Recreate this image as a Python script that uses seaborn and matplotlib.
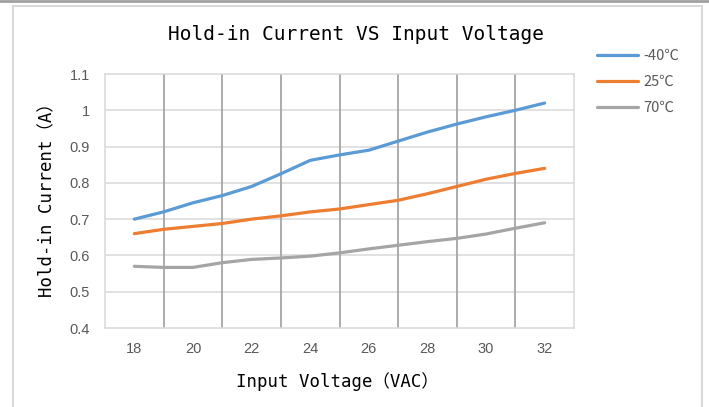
import matplotlib
matplotlib.use("Agg")
import matplotlib.pyplot as plt
import seaborn as sns
import pandas as pd
from matplotlib.patches import Rectangle
from matplotlib.lines import Line2D

# ---- data ----
voltage = [18, 19, 20, 21, 22, 23, 24, 25, 26, 27, 28, 29, 30, 31, 32]
cur_m40 = [0.70, 0.72, 0.745, 0.765, 0.79, 0.825, 0.862, 0.877, 0.89, 0.915, 0.94, 0.962, 0.982, 1.0, 1.02]
cur_25 = [0.66, 0.672, 0.68, 0.688, 0.70, 0.709, 0.72, 0.728, 0.74, 0.752, 0.77, 0.79, 0.81, 0.826, 0.84]
cur_70 = [0.57, 0.567, 0.567, 0.58, 0.589, 0.593, 0.598, 0.607, 0.618, 0.628, 0.638, 0.647, 0.659, 0.675, 0.69]
series_names = ["-40℃", "25℃", "70℃"]
x_ticks = [18, 20, 22, 24, 26, 28, 30, 32]
y_ticks = [0.4, 0.5, 0.6, 0.7, 0.8, 0.9, 1.0, 1.1]
y_tick_labels = ["0.4", "0.5", "0.6", "0.7", "0.8", "0.9", "1", "1.1"]
title = "Hold-in Current VS Input Voltage"
x_label = "Input Voltage（VAC）"
y_label = "Hold-in Current（A）"

df = pd.DataFrame({
    "V": voltage * 3,
    "I": cur_m40 + cur_25 + cur_70,
    "T": [series_names[0]] * len(voltage) + [series_names[1]] * len(voltage) + [series_names[2]] * len(voltage),
})

colors = ["#5B9BD5", "#ED7D31", "#A5A5A5"]

sns.set_theme(style="white")
W, H = 709, 407
fig = plt.figure(figsize=(W / 100, H / 100), dpi=100)
fig.patch.set_facecolor("white")

# outer chart border + top strip
fig.add_artist(Rectangle((13 / W, -0.05), (702 - 13) / W, 1 - 6 / H + 0.05,
                         transform=fig.transFigure, fill=False,
                         edgecolor="#d9d9d9", linewidth=1.5))
fig.add_artist(Line2D([0, 1], [1 - 1 / H, 1 - 1 / H], transform=fig.transFigure,
                      color="#a0a0a0", linewidth=2))

ax = fig.add_axes([105 / W, 1 - 328 / H, (574 - 105) / W, (328 - 74) / H])

# grid lines
for yv in y_ticks[1:-1]:
    ax.axhline(yv, color="#d9d9d9", linewidth=1.1, zorder=0)
for xv in range(19, 33, 2):
    ax.axvline(xv, color="#a6a6a6", linewidth=1.3, zorder=0)

sns.lineplot(data=df, x="V", y="I", hue="T", palette=colors, linewidth=2.3,
             legend=False, ax=ax, zorder=3)

ax.set_xlim(17, 33)
ax.set_ylim(0.4, 1.1)
ax.set_xticks(x_ticks)
ax.set_yticks(y_ticks)
ax.set_yticklabels(y_tick_labels)
ax.tick_params(axis="both", length=0, labelsize=10.5, colors="#595959")
ax.tick_params(axis="x", pad=10)
ax.tick_params(axis="y", pad=11)
for lab in ax.get_xticklabels() + ax.get_yticklabels():
    lab.set_family(["Liberation Sans", "DejaVu Sans"])
ax.set_xlabel("")
ax.set_ylabel("")
for sp in ax.spines.values():
    sp.set_color("#d9d9d9")
    sp.set_linewidth(1.1)

fam = ["DejaVu Sans Mono", "Noto Sans CJK SC"]
fig.text(356 / W, 1 - 35 / H, title, ha="center", va="center", fontsize=14,
         family=fam, color="#000000", weight="medium")
fig.text(337 / W, 1 - 382 / H, x_label, ha="center", va="center", fontsize=12.5,
         family=fam, color="#000000")
fig.text(47 / W, 1 - 196 / H, y_label, ha="center", va="center", fontsize=12.5,
         family=fam, color="#000000", rotation=90)

handles = [Line2D([0], [0], color=c, linewidth=2.3) for c in colors]
leg = fig.legend(handles, series_names, loc="upper left",
                 bbox_to_anchor=(597 / W, 1 - 49 / H), frameon=False,
                 borderpad=0, borderaxespad=0, handlelength=2.8,
                 handletextpad=0.4, labelspacing=0.82,
                 prop={"family": ["Noto Sans CJK SC"], "size": 10.5})
for t in leg.get_texts():
    t.set_color("#595959")

fig.savefig("out.png", dpi=100, facecolor="white")
